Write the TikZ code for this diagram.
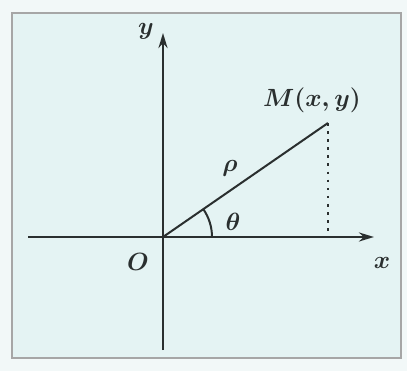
\documentclass[tikz,border=0pt]{standalone}
\usetikzlibrary{arrows.meta}
\definecolor{bgc}{HTML}{E4F3F3}
\definecolor{outc}{HTML}{F2F8F8}
\definecolor{inkc}{HTML}{2A2F2F}
\begin{document}
\begin{tikzpicture}[x=1pt,y=-1pt,
  axis/.style={draw=inkc,line width=2.6pt,-{Stealth[length=15pt,width=9pt]}},
  seg/.style={draw=inkc,line width=2pt},
  dots/.style={draw=inkc,line width=2.6pt,dash pattern=on 2.6pt off 5.5pt},
  lbl/.style={inner sep=0pt,text=inkc,font=\fontsize{28}{32}\selectfont\boldmath}]
\fill[outc] (0,0) rectangle (407,371);
\useasboundingbox (0,0) rectangle (407,371);
\draw[fill=bgc,draw=gray!70,line width=1.5pt] (12,13) rectangle (401,358);
\coordinate (O) at (163,237);
\coordinate (M) at (328,123);
\coordinate (P) at (328,237);
\coordinate (xl) at (28,237);
\coordinate (xr) at (374,237);
\coordinate (yb) at (163,350);
\coordinate (yt) at (163,33);
\draw[axis] (xl) -- (xr);
\draw[axis] (yb) -- (yt);
\draw[seg] (O) -- (M);
\draw[dots] (M) -- (P);
\draw[seg] ([shift={(49,0)}]O) arc[start angle=0,end angle=-34.4,radius=49];
\node[lbl] (ml) at (312,100) {$M(x,y)$};
\node[lbl] (rho) at (230,168) {$\rho$};
\node[lbl] (th) at (233,222) {$\theta$};
\node[lbl] (ol) at (138,262) {$O$};
\node[lbl] (xlab) at (382,263) {$x$};
\node[lbl] (ylab) at (146,31) {$y$};
\end{tikzpicture}
\end{document}
